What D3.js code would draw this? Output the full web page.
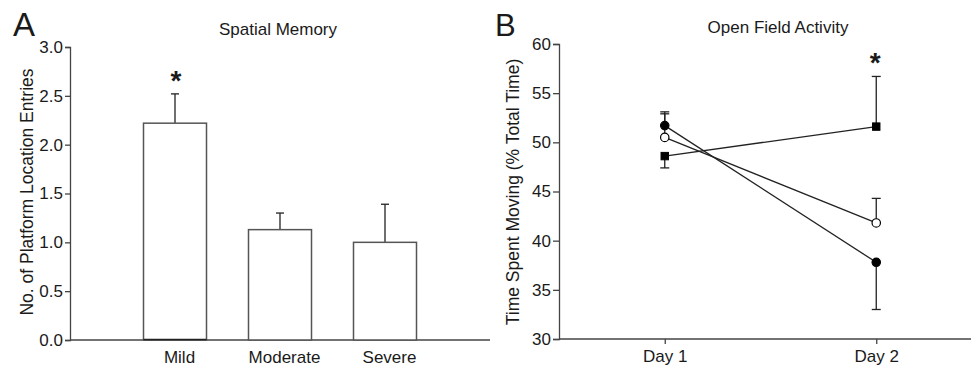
<!DOCTYPE html>
<html>
<head>
	<title>Spatial Memory / Open Field Activity</title>
</head>
<style type="text/css">
	html, body {margin:0px; padding:0px; background:#fff;}
	svg {display:block;}
	text {font-family: "Liberation Sans", Arial, sans-serif; fill:#1a1a1a;}
	.axis path, .axis line {stroke:#444; stroke-width:1.3;}
	.axis text {font-size:17px; fill:#1a1a1a; font-family: "Liberation Sans", Arial, sans-serif;}
</style>
<body>

	<svg width="971" height="369"></svg>

<script src="https://d3js.org/d3.v7.min.js"></script>
<script type="text/javascript">

	// panel A data
	const severity = ['Mild', 'Moderate', 'Severe'];
	const entries = [2.22, 1.13, 1.00];
	const entriesErr = [0.30, 0.17, 0.39];
	const yTicksA = [0, 0.5, 1.0, 1.5, 2.0, 2.5, 3.0];

	// panel B data
	const days = ['Day 1', 'Day 2'];
	const filledCircle = [51.7, 37.8];
	const filledCircleErr = [1.4, -4.8];
	const openCircle = [50.5, 41.8];
	const openCircleErr = [2.4, 2.5];
	const filledSquare = [48.6, 51.6];
	const filledSquareErr = [-1.2, 5.1];
	const yTicksB = [30, 35, 40, 45, 50, 55, 60];

	const svg = d3.select('svg');

	// ---------- panel A ----------
	let xA = d3.scalePoint().domain(severity).range([70, 490]).padding(1);
	let yA = d3.scaleLinear().domain([0, 3]).range([340, 47]);
	const barW = 63;

	let gA = svg.append('g');

	gA.append('g').attr('class', 'axis')
		.attr('transform', 'translate(70,0)')
		.call(d3.axisLeft(yA).tickValues(yTicksA).tickFormat(d3.format('.1f')).tickSize(5).tickPadding(2));

	gA.append('g').attr('class', 'axis')
		.attr('transform', 'translate(0,340)')
		.call(d3.axisBottom(xA).tickSize(0).tickPadding(11))
		.call(g => g.select('.domain').attr('d', 'M70,0H490'))
		.selectAll('text').attr('dx', 4);

	// error bars (upper only)
	severity.forEach(function(c, i) {
		let cx = xA(c);
		gA.append('line')
			.attr('x1', cx).attr('x2', cx)
			.attr('y1', yA(entries[i])).attr('y2', yA(entries[i] + entriesErr[i]))
			.attr('stroke', '#222').attr('stroke-width', 1.3);
		gA.append('line')
			.attr('x1', cx - 4).attr('x2', cx + 4)
			.attr('y1', yA(entries[i] + entriesErr[i])).attr('y2', yA(entries[i] + entriesErr[i]))
			.attr('stroke', '#222').attr('stroke-width', 1.3);
	});

	gA.selectAll('rect.bar')
		.data(entries)
		.enter().append('rect')
		.attr('class', 'bar')
		.attr('x', (d, i) => xA(severity[i]) - barW / 2)
		.attr('y', d => yA(d))
		.attr('width', barW)
		.attr('height', d => yA(0) - yA(d))
		.attr('fill', '#fff')
		.attr('stroke', '#555')
		.attr('stroke-width', 1.5);

	// mild bar has a darker base line
	gA.append('line')
		.attr('x1', xA('Mild') - barW / 2).attr('x2', xA('Mild') + barW / 2)
		.attr('y1', yA(0) - 0.5).attr('y2', yA(0) - 0.5)
		.attr('stroke', '#222').attr('stroke-width', 1.5);

	gA.append('text')
		.attr('x', xA('Mild') + 1).attr('y', yA(entries[0] + entriesErr[0]) - 4)
		.attr('text-anchor', 'middle')
		.style('font-size', '28px').style('font-weight', 'bold')
		.text('*');

	gA.append('text')
		.attr('x', 278).attr('y', 35)
		.attr('text-anchor', 'middle')
		.style('font-size', '17px')
		.text('Spatial Memory');

	gA.append('text')
		.attr('transform', 'translate(33,192) rotate(-90)')
		.attr('text-anchor', 'middle')
		.style('font-size', '17.5px')
		.text('No. of Platform Location Entries');

	gA.append('text')
		.attr('x', 13).attr('y', 36)
		.style('font-size', '33px')
		.text('A');

	// ---------- panel B ----------
	let xB = d3.scalePoint().domain(days).range([559, 982]).padding(0.5);
	let yB = d3.scaleLinear().domain([30, 60]).range([339, 44]);

	let gB = svg.append('g');

	gB.append('g').attr('class', 'axis')
		.attr('transform', 'translate(559,0)')
		.call(d3.axisLeft(yB).tickValues(yTicksB).tickSize(6).tickPadding(2));

	gB.append('g').attr('class', 'axis')
		.attr('transform', 'translate(0,339)')
		.call(d3.axisBottom(xB).tickSize(5).tickPadding(6))
		.call(g => g.select('.domain').attr('d', 'M559,0H982'));

	const series = [
		{ vals: filledSquare, err: filledSquareErr, shape: 'square', fill: '#000' },
		{ vals: openCircle, err: openCircleErr, shape: 'circle', fill: '#fff' },
		{ vals: filledCircle, err: filledCircleErr, shape: 'circle', fill: '#000' }
	];

	let line = d3.line()
		.x((d, i) => xB(days[i]))
		.y(d => yB(d));

	// error bars
	series.forEach(function(s) {
		s.vals.forEach(function(v, i) {
			let cx = xB(days[i]);
			let end = yB(v + s.err[i]);
			gB.append('line')
				.attr('x1', cx).attr('x2', cx)
				.attr('y1', yB(v)).attr('y2', end)
				.attr('stroke', '#222').attr('stroke-width', 1.3);
			gB.append('line')
				.attr('x1', cx - 4.5).attr('x2', cx + 4.5)
				.attr('y1', end).attr('y2', end)
				.attr('stroke', '#222').attr('stroke-width', 1.3);
		});
	});

	series.forEach(function(s) {
		gB.append('path')
			.attr('d', line(s.vals))
			.attr('fill', 'none')
			.attr('stroke', '#222')
			.attr('stroke-width', 1.3);
	});

	series.forEach(function(s) {
		s.vals.forEach(function(v, i) {
			let cx = xB(days[i]), cy = yB(v);
			if (s.shape === 'square') {
				gB.append('rect')
					.attr('x', cx - 3.7).attr('y', cy - 3.7)
					.attr('width', 7.4).attr('height', 7.4)
					.attr('fill', s.fill).attr('stroke', '#000').attr('stroke-width', 1);
			} else {
				gB.append('circle')
					.attr('cx', cx).attr('cy', cy).attr('r', 4.2)
					.attr('fill', s.fill).attr('stroke', '#000').attr('stroke-width', 1.2);
			}
		});
	});

	gB.append('text')
		.attr('x', xB('Day 2') - 1).attr('y', yB(filledSquare[1] + filledSquareErr[1]) - 4)
		.attr('text-anchor', 'middle')
		.style('font-size', '28px').style('font-weight', 'bold')
		.text('*');

	gB.append('text')
		.attr('x', 778).attr('y', 33)
		.attr('text-anchor', 'middle')
		.style('font-size', '17px')
		.text('Open Field Activity');

	gB.append('text')
		.attr('transform', 'translate(519,192) rotate(-90)')
		.attr('text-anchor', 'middle')
		.style('font-size', '17.5px')
		.text('Time Spent Moving (% Total Time)');

	gB.append('text')
		.attr('x', 495).attr('y', 36)
		.style('font-size', '31px')
		.text('B');

</script>
</body>
</html>
